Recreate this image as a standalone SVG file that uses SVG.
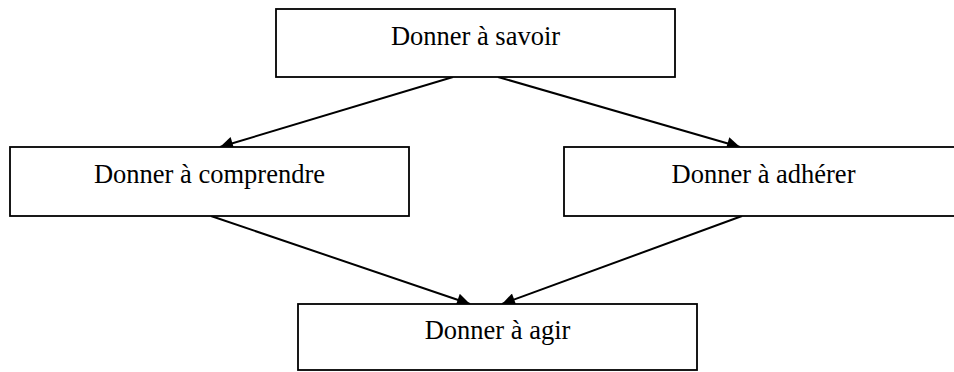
<svg xmlns="http://www.w3.org/2000/svg" width="954" height="372" viewBox="0 0 954 372">
<style>
.box{fill:#fff;stroke:#000;stroke-width:1.8}
.lbl{font-family:"Liberation Serif","Times New Roman",serif;font-size:26.5px;fill:#000;text-anchor:middle}
.edge{stroke:#000;stroke-width:2;fill:none;marker-end:url(#ah)}
</style>
<defs>
<marker id="ah" viewBox="0 0 10 10" refX="10" refY="5" markerWidth="8" markerHeight="6.5" markerUnits="strokeWidth" orient="auto">
<path d="M0,0 L10,5 L0,10 z" fill="#000"/>
</marker>
</defs>
<rect width="954" height="372" fill="#fff"/>
<g id="connectors">
<line class="edge" x1="453" y1="77" x2="220" y2="147"/>
<line class="edge" x1="498" y1="77" x2="740" y2="147"/>
<line class="edge" x1="211" y1="216" x2="470" y2="304"/>
<line class="edge" x1="742" y1="216" x2="502" y2="304"/>
</g>
<g id="savoir">
<rect class="box" x="276" y="9" width="399" height="68"/>
<text class="lbl" x="475.5" y="45">Donner à savoir</text>
</g>
<g id="comprendre">
<rect class="box" x="10" y="147" width="399" height="69"/>
<text class="lbl" x="209.5" y="183">Donner à comprendre</text>
</g>
<g id="adherer">
<rect class="box" x="564" y="147" width="399" height="69"/>
<text class="lbl" x="763.5" y="183">Donner à adhérer</text>
</g>
<g id="agir">
<rect class="box" x="298" y="304" width="399" height="66"/>
<text class="lbl" x="497.5" y="339">Donner à agir</text>
</g>
</svg>
